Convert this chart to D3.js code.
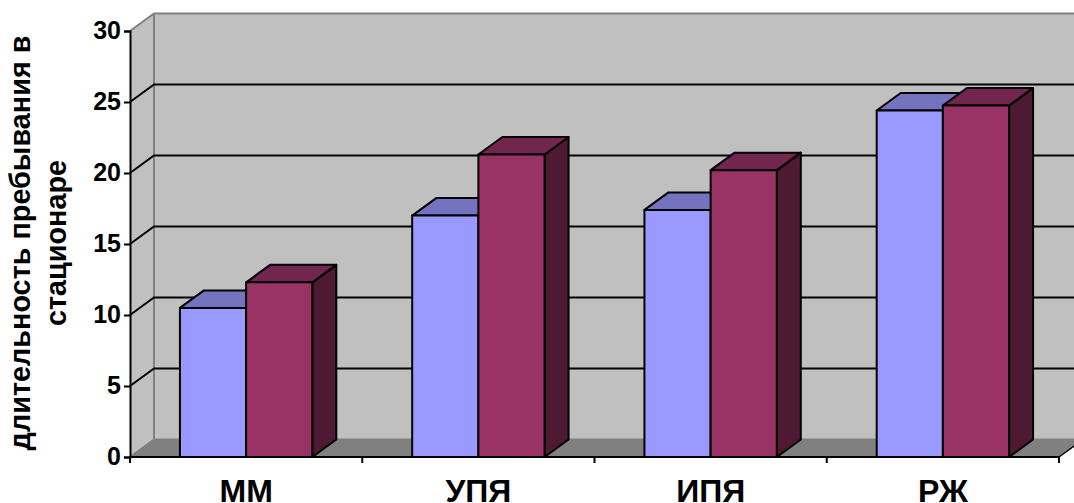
<!DOCTYPE html>
<html>
<head>
<meta charset="utf-8">
<script src="https://cdn.jsdelivr.net/npm/d3@7"></script>
<style>
html, body { margin: 0; padding: 0; background: #fff; overflow: hidden; }
svg { display: block; font-family: "Liberation Sans", Arial, sans-serif; font-weight: bold; }
</style>
</head>
<body>
<svg id="chart" width="1074" height="503"></svg>
<script>
// Length of hospital stay by group
const categories = ["ММ", "УПЯ", "ИПЯ", "РЖ"];
const seriesA = [10.5, 17.0, 17.4, 24.4];
const seriesB = [12.3, 21.3, 20.2, 24.75];
const tickValues = [0, 5, 10, 15, 20, 25, 30];
const titleLines = ["длительность пребывания в", "стационаре"];
const seriesColors = [
  { front: "#9999ff", top: "#7373bf", side: "#4d4d80" },
  { front: "#993366", top: "#73264d", side: "#4d1933" }
];

const svg = d3.select("#chart");
const W = 1074, H = 503;

const plot = { left: 130, right: 1059, bottom: 457, top: 31 };
const depth = { x: 24, y: -17.5 };

const x = d3.scaleBand().domain(categories).range([plot.left, plot.right]);
const y = d3.scaleLinear().domain([0, 30]).range([plot.bottom, plot.top]);
const barW = x.step() * 0.285;

const poly = pts => pts.map(p => p.join(",")).join(" ");
const rightEdge = W + 40;

// Back wall, side wall and floor of the 3D box
const walls = svg.append("g");
walls.append("polygon")
  .attr("points", poly([[plot.left, plot.top], [plot.left + depth.x, plot.top + depth.y],
                        [plot.left + depth.x, plot.bottom + depth.y], [plot.left, plot.bottom]]))
  .attr("fill", "#c0c0c0");
walls.append("rect")
  .attr("x", plot.left + depth.x).attr("y", plot.top + depth.y)
  .attr("width", rightEdge - plot.left - depth.x).attr("height", plot.bottom - plot.top)
  .attr("fill", "#c0c0c0");
walls.append("polygon")
  .attr("points", poly([[plot.left, plot.bottom], [plot.left + depth.x, plot.bottom + depth.y],
                        [plot.right + depth.x, plot.bottom + depth.y], [plot.right, plot.bottom]]))
  .attr("fill", "#808080");
walls.append("path")
  .attr("d", `M${plot.left},${plot.top}L${plot.left + depth.x},${plot.top + depth.y}H${rightEdge}` +
             `M${plot.left + depth.x},${plot.top + depth.y}V${plot.bottom + depth.y}H${rightEdge}` +
             `M${plot.left + depth.x},${plot.bottom + depth.y}L${plot.left},${plot.bottom}`)
  .attr("fill", "none").attr("stroke", "#808080").attr("stroke-width", 2);

// Gridlines run along the side wall and across the back wall
const grid = tickValues.filter(v => v > 0 && v < 30);
svg.append("g").selectAll("path").data(grid).join("path")
  .attr("d", v => `M${plot.left},${y(v)}L${plot.left + depth.x},${y(v) + depth.y}H${rightEdge}`)
  .attr("fill", "none").attr("stroke", "#000").attr("stroke-width", 2);

// Closes the floor on the right-hand side
svg.append("path")
  .attr("d", `M${plot.right},${plot.bottom}L${plot.right + depth.x},${plot.bottom + depth.y}`)
  .attr("stroke", "#000").attr("stroke-width", 1.5);

// Clustered bars, drawn as front, top and side faces
const bars = svg.append("g").attr("stroke", "#000").attr("stroke-width", 2).attr("stroke-linejoin", "round");
function drawBar(left, value, colors) {
  const t = y(value), r = left + barW, b = y(0);
  const g = bars.append("g");
  g.append("polygon")
    .attr("points", poly([[r, t], [r + depth.x, t + depth.y], [r + depth.x, b + depth.y], [r, b]]))
    .attr("fill", colors.side);
  g.append("polygon")
    .attr("points", poly([[left, t], [left + depth.x, t + depth.y], [r + depth.x, t + depth.y], [r, t]]))
    .attr("fill", colors.top);
  g.append("rect")
    .attr("x", left).attr("y", t).attr("width", barW).attr("height", b - t)
    .attr("fill", colors.front);
}
categories.forEach((c, i) => {
  const mid = x(c) + x.bandwidth() / 2;
  drawBar(mid - barW, seriesA[i], seriesColors[0]);
  drawBar(mid, seriesB[i], seriesColors[1]);
});

// Value axis
const yAxis = svg.append("g")
  .attr("transform", `translate(${plot.left},0)`)
  .call(d3.axisLeft(y).tickValues(tickValues).tickSize(6).tickPadding(3));
yAxis.select(".domain").attr("stroke", "#000").attr("stroke-width", 2);
yAxis.selectAll(".tick line").attr("stroke", "#000").attr("stroke-width", 2);
yAxis.selectAll("text").attr("font-size", 25).attr("font-family", "inherit").attr("font-weight", "bold").attr("fill", "#000").attr("dy", "0.3em");

// Category axis with ticks on the band boundaries
const xAxis = svg.append("g")
  .attr("transform", `translate(0,${plot.bottom})`)
  .call(d3.axisBottom(x).tickSize(0).tickPadding(0));
xAxis.select(".domain").remove();
xAxis.append("line")
  .attr("x1", plot.left).attr("x2", plot.right)
  .attr("stroke", "#000").attr("stroke-width", 2);
xAxis.selectAll(".boundary").data(d3.range(categories.length + 1)).join("line")
  .attr("class", "boundary")
  .attr("x1", i => plot.left + i * x.step()).attr("x2", i => plot.left + i * x.step())
  .attr("y1", 0).attr("y2", 6)
  .attr("stroke", "#000").attr("stroke-width", 2);
xAxis.selectAll(".tick text")
  .attr("font-size", 32).attr("font-family", "inherit").attr("font-weight", "bold").attr("fill", "#000")
  .attr("y", 45).attr("dy", 0);

// Two-line rotated axis title
svg.append("g").selectAll("text").data(titleLines).join("text")
  .attr("transform", (d, i) => `translate(${30 + i * 36},243) rotate(-90)`)
  .attr("text-anchor", "middle")
  .attr("font-size", 28.8)
  .attr("fill", "#000")
  .text(d => d);
</script>
</body>
</html>
